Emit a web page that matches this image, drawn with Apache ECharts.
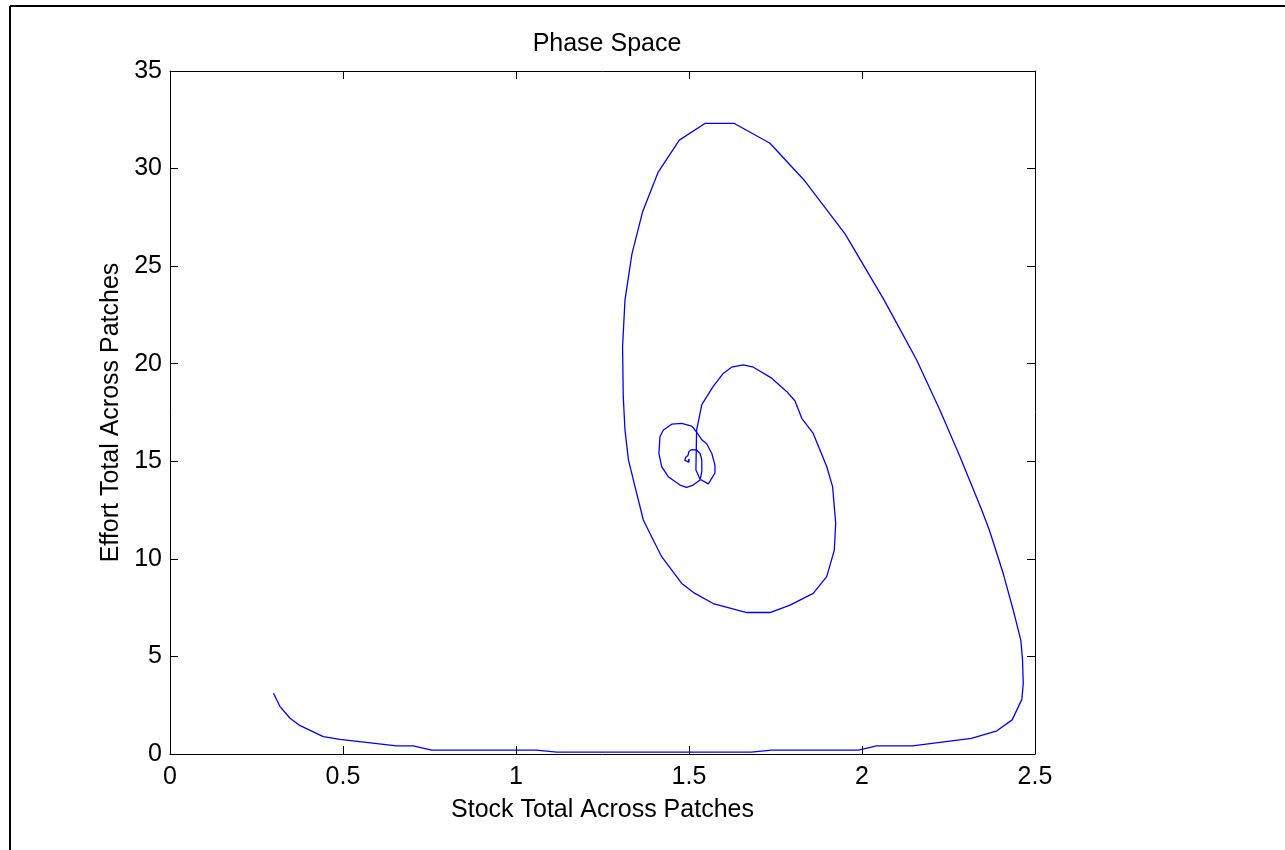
<!DOCTYPE html>
<html>
<head>
<meta charset="utf-8">
<title>Phase Space</title>
<script src="https://cdn.jsdelivr.net/npm/echarts@6/dist/echarts.min.js"></script>
<style>
  html, body { margin: 0; padding: 0; background: #fff; }
  #chart { width: 1285px; height: 850px; }
</style>
</head>
<body>
<div id="chart"></div>
<script>
// Trajectory of total stock vs. total effort summed over all patches
const stockTotal = [
  0.299, 0.318, 0.347, 0.376, 0.443, 0.491, 0.655, 0.703, 0.756, 1.059,
  1.118, 1.680, 1.739, 1.990, 2.042, 2.146, 2.316, 2.390, 2.434, 2.462,
  2.466, 2.464, 2.459, 2.437, 2.408, 2.368, 2.346, 2.283, 2.225, 2.158,
  2.110, 2.062, 1.951, 1.835, 1.734, 1.630, 1.547, 1.472, 1.411, 1.366,
  1.335, 1.315, 1.308, 1.310, 1.315, 1.325, 1.344, 1.368, 1.392, 1.421,
  1.479, 1.517, 1.570, 1.667, 1.734, 1.792, 1.859, 1.898, 1.920, 1.924,
  1.915, 1.898, 1.859, 1.826, 1.806, 1.782, 1.739, 1.686, 1.657, 1.623,
  1.599, 1.570, 1.537, 1.522, 1.520, 1.532, 1.556, 1.575, 1.575, 1.566,
  1.551, 1.537, 1.522, 1.508, 1.479, 1.450, 1.426, 1.416, 1.413, 1.421,
  1.440, 1.474, 1.493, 1.512, 1.532, 1.537, 1.537, 1.532, 1.522, 1.508,
  1.500, 1.497, 1.490, 1.488, 1.493, 1.500, 1.503, 1.500, 1.496, 1.498,
  1.500
];
const effortTotal = [
  3.11, 2.43, 1.83, 1.45, 0.89, 0.75, 0.42, 0.42, 0.20, 0.20,
  0.10, 0.10, 0.20, 0.20, 0.42, 0.42, 0.80, 1.19, 1.75, 2.80,
  3.62, 4.82, 5.84, 7.38, 9.26, 11.48, 12.50, 15.24, 17.63, 20.19,
  21.76, 23.32, 26.65, 29.36, 31.30, 32.32, 32.32, 31.46, 29.82, 27.79,
  25.62, 23.27, 20.87, 18.30, 16.60, 15.07, 13.70, 11.99, 11.13, 10.11,
  8.74, 8.23, 7.71, 7.25, 7.25, 7.63, 8.23, 9.09, 10.45, 11.82,
  13.70, 14.73, 16.43, 17.20, 18.10, 18.58, 19.26, 19.82, 19.94, 19.82,
  19.50, 18.84, 17.90, 16.60, 14.55, 14.08, 13.84, 14.40, 14.80, 15.40,
  15.90, 16.10, 16.50, 16.80, 16.94, 16.90, 16.60, 16.26, 15.40, 14.73,
  14.21, 13.78, 13.66, 13.78, 14.04, 14.47, 15.07, 15.40, 15.58, 15.60,
  15.50, 15.30, 15.20, 15.05, 14.95, 14.95, 15.05, 15.12, 15.05, 15.00,
  15.00
];

// Axis ranges and tick steps
const xRange = [0, 2.5];
const xStep = 0.5;
const yRange = [0, 35];
const yStep = 5;

const titleText = 'Phase Space';
const xLabelText = 'Stock Total Across Patches';
const yLabelText = 'Effort Total Across Patches';

const FONT = "'Liberation Sans', Arial, Helvetica, sans-serif";
const points = stockTotal.map((s, i) => [s, effortTotal[i]]);

const tickStyle = { show: true, inside: true, length: 8, lineStyle: { color: '#000', width: 1 } };
const lineStyle = { show: true, onZero: false, lineStyle: { color: '#000', width: 1 } };
const labelStyle = { color: '#000', fontSize: 25, fontFamily: FONT };

const chart = echarts.init(document.getElementById('chart'), null, { renderer: 'canvas' });
chart.setOption({
  backgroundColor: '#fff',
  animation: false,
  title: {
    text: titleText,
    left: 602, textAlign: 'center', top: 27,
    textStyle: { color: '#000', fontSize: 25, fontWeight: 'normal', fontFamily: FONT }
  },
  grid: { left: 170, right: 250, top: 71, bottom: 96, containLabel: false },
  xAxis: [
    {
      type: 'value', position: 'bottom', min: xRange[0], max: xRange[1], interval: xStep,
      axisLine: lineStyle, axisTick: tickStyle, splitLine: { show: false },
      axisLabel: Object.assign({ margin: 11 }, labelStyle),
      name: xLabelText, nameLocation: 'middle', nameGap: 44,
      nameTextStyle: { color: '#000', fontSize: 25, fontFamily: FONT }
    },
    {
      type: 'value', position: 'top', min: xRange[0], max: xRange[1], interval: xStep,
      axisLine: lineStyle, axisTick: tickStyle, splitLine: { show: false },
      axisLabel: { show: false }
    }
  ],
  yAxis: [
    {
      type: 'value', position: 'left', min: yRange[0], max: yRange[1], interval: yStep,
      axisLine: lineStyle, axisTick: tickStyle, splitLine: { show: false },
      axisLabel: Object.assign({ margin: 8 }, labelStyle),
      name: yLabelText, nameLocation: 'middle', nameGap: 44,
      nameTextStyle: { color: '#000', fontSize: 25, fontFamily: FONT }
    },
    {
      type: 'value', position: 'right', min: yRange[0], max: yRange[1], interval: yStep,
      axisLine: lineStyle, axisTick: tickStyle, splitLine: { show: false },
      axisLabel: { show: false }
    }
  ],
  series: [{
    type: 'line',
    data: points,
    xAxisIndex: 0, yAxisIndex: 0,
    showSymbol: false,
    smooth: false,
    lineStyle: { color: '#0000ff', width: 1.3 },
    clip: true
  }],
  graphic: [
    { type: 'line', shape: { x1: 10, y1: 6, x2: 1285, y2: 6 }, style: { stroke: '#000', lineWidth: 2 } },
    { type: 'line', shape: { x1: 10, y1: 6, x2: 10, y2: 850 }, style: { stroke: '#000', lineWidth: 2 } }
  ]
});
</script>
</body>
</html>
